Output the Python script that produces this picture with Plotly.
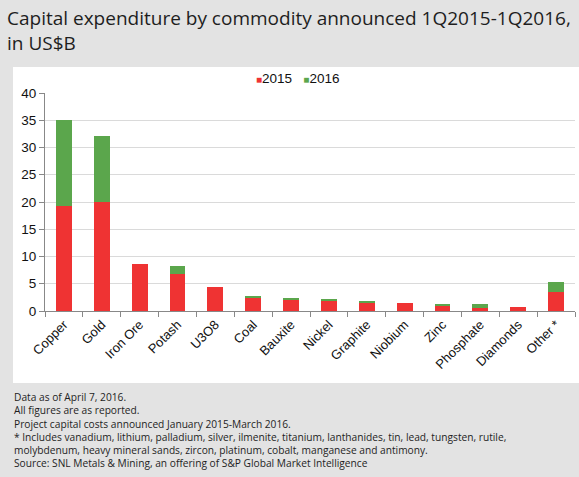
import plotly.graph_objects as go

# Capital expenditure announced per commodity, US$ billions
commodities = ["Copper", "Gold", "Iron Ore", "Potash", "U3O8", "Coal", "Bauxite",
               "Nickel", "Graphite", "Niobium", "Zinc", "Phosphate", "Diamonds", "Other *"]
capex_2015 = [19.2, 20.0, 8.7, 6.8, 4.4, 2.45, 2.2, 2.0, 1.6, 1.4, 1.05, 0.6, 0.8, 3.4]
capex_2016 = [15.8, 12.2, 0.0, 1.5, 0.0, 0.25, 0.1, 0.2, 0.2, 0.0, 0.25, 0.6, 0.0, 2.0]

y_ticks = [0, 5, 10, 15, 20, 25, 30, 35, 40]

footnotes = [
    "Data as of April 7, 2016.",
    "All figures are as reported.",
    "Project capital costs announced January 2015-March 2016.",
    "* Includes vanadium, lithium, palladium, silver, ilmenite, titanium, lanthanides, tin, lead, tungsten, rutile,",
    "molybdenum, heavy mineral sands, zircon, platinum, cobalt, manganese and antimony.",
    "Source: SNL Metals & Mining, an offering of S&P Global Market Intelligence",
]

W, H = 579, 477
L, R, T, B = 45, 4, 93, 166
PW, PH = W - L - R, H - T - B


def px(x):
    return (x - L) / PW


def py(y):
    return (H - B - y) / PH


RED = "#ef3333"
GREEN = "#5ba64c"

fig = go.Figure()
fig.add_trace(go.Bar(x=commodities, y=capex_2015, name="2015",
                     marker=dict(color=RED, line=dict(width=0))))
fig.add_trace(go.Bar(x=commodities, y=capex_2016, name="2016",
                     marker=dict(color=GREEN, line=dict(width=0))))

# white chart panel on grey page
fig.add_shape(type="rect", xref="paper", yref="paper",
              x0=px(13), x1=px(582), y0=py(383), y1=py(67),
              fillcolor="white", line=dict(width=0), layer="below")

# compact legend: small coloured squares directly before the year
legend_text = (f"<span style='color:{RED};font-size:10px'>■</span>2015"
               f"&nbsp;&nbsp;&nbsp;<span style='color:{GREEN};font-size:10px'>■</span>2016")
fig.add_annotation(text=legend_text, xref="paper", yref="paper",
                   x=px(297), y=py(78), xanchor="center", yanchor="middle",
                   showarrow=False,
                   font=dict(family="Liberation Sans, Arial", size=13.5, color="#111"))

fig.add_annotation(text="Capital expenditure by commodity announced 1Q2015-1Q2016,<br>in US$B",
                   xref="paper", yref="paper", x=px(5), y=py(31),
                   xanchor="left", yanchor="middle", align="left", showarrow=False,
                   font=dict(family="Open Sans", size=19, color="#1e1e1e"))

fig.add_annotation(text="<br>".join(footnotes), xref="paper", yref="paper",
                   x=px(12), y=py(429.5), xanchor="left", yanchor="middle",
                   align="left", showarrow=False,
                   font=dict(family="Open Sans", size=10.2, color="#1e1e1e"))

fig.update_layout(
    width=W, height=H,
    margin=dict(l=L, r=R, t=T, b=B),
    paper_bgcolor="#e3e3e3",
    plot_bgcolor="rgba(0,0,0,0)",
    barmode="stack",
    bargap=0.58,
    font=dict(family="Liberation Sans, Arial", size=12, color="#111"),
    showlegend=False,
)
fig.update_xaxes(
    type="category", tickangle=-45, tickson="boundaries",
    ticks="outside", ticklen=5, tickcolor="#888",
    showline=True, linecolor="#888", linewidth=1,
    tickfont=dict(size=13, color="#111"), showgrid=False,
)
fig.update_yaxes(
    range=[0, 40], tickvals=y_ticks, ticks="outside", ticklen=5, tickcolor="#888",
    showline=True, linecolor="#888", linewidth=1,
    gridcolor="#dadada", gridwidth=1, zeroline=False,
    tickfont=dict(size=13.5, color="#111"),
)

fig.write_html("out.html")
